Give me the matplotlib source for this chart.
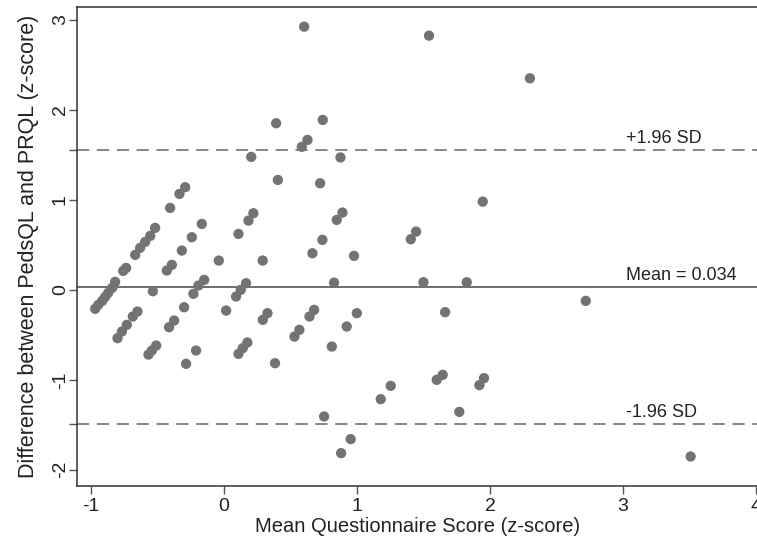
import matplotlib
matplotlib.use("Agg")
import matplotlib.pyplot as plt

plt.rcParams["font.family"] = ["Liberation Sans", "DejaVu Sans"]
plt.rcParams["axes.unicode_minus"] = False

# Bland-Altman data: mean of the two z-scores vs. their difference
x_mean = [-0.970, -0.947, -0.917, -0.895, -0.872, -0.842, -0.820, -0.759, -0.737,
          -0.669, -0.632, -0.594, -0.556, -0.519,
          -0.406, -0.336, -0.293, 0.204, 0.220, 0.183, 0.108,
          -0.168, -0.243, -0.318, -0.393, -0.431, -0.040, 0.290,
          -0.150, -0.193, -0.231, -0.301, -0.376, -0.414,
          -0.536, -0.652, -0.687, -0.732, -0.769, -0.802,
          -0.511, -0.544, -0.569, -0.211, -0.286,
          0.165, 0.125, 0.090, 0.015, 0.175, 0.140, 0.108, 0.326, 0.291,
          0.404, 0.722, 0.875, 0.602, 1.541, 2.300, 0.742, 0.627, 0.584, 0.391,
          0.890, 0.847, 0.739, 0.664, 0.977, 0.827,
          0.677, 0.642, 0.566, 0.529, 0.998, 0.922, 0.810, 0.383,
          1.945, 1.444, 1.404, 1.499, 1.825, 1.662,
          1.644, 1.599, 1.955, 1.920,
          0.752, 0.952, 0.880, 1.178, 1.253, 1.769, 3.509, 2.720]
y_diff = [-0.210, -0.167, -0.122, -0.078, -0.033, 0.022, 0.089, 0.211, 0.244,
          0.389, 0.467, 0.533, 0.600, 0.689,
          0.911, 1.067, 1.141, 1.478, 0.852, 0.770, 0.622,
          0.733, 0.585, 0.437, 0.278, 0.215, 0.326, 0.326,
          0.111, 0.048, -0.044, -0.193, -0.341, -0.415,
          -0.015, -0.241, -0.296, -0.389, -0.463, -0.537,
          -0.619, -0.674, -0.719, -0.674, -0.822,
          0.074, 0.000, -0.074, -0.230, -0.585, -0.648, -0.711, -0.259, -0.333,
          1.222, 1.185, 1.472, 2.926, 2.826, 2.352, 1.889, 1.667, 1.590, 1.852,
          0.859, 0.778, 0.556, 0.407, 0.378, 0.081,
          -0.222, -0.296, -0.444, -0.519, -0.259, -0.407, -0.630, -0.815,
          0.981, 0.648, 0.563, 0.085, 0.085, -0.248,
          -0.944, -1.000, -0.981, -1.059,
          -1.407, -1.659, -1.815, -1.215, -1.067, -1.356, -1.852, -0.122]

mean_diff = 0.034
upper_loa = 1.555
lower_loa = -1.487

x_ticks = [-1, 0, 1, 2, 3, 4]
y_ticks = [-2, -1, 0, 1, 2, 3]

fig = plt.figure(figsize=(7.57, 5.41), dpi=100)
ax = fig.add_axes([0.102, 0.102, 0.898, 0.885])

ax.scatter(x_mean, y_diff, s=55, color="#737376", edgecolors="none", zorder=3)

ax.axhline(mean_diff, color="#555555", linewidth=1.2, zorder=2)
ax.axhline(upper_loa, color="#666666", linewidth=1.1, linestyle=(0, (8, 5)), zorder=2)
ax.axhline(lower_loa, color="#666666", linewidth=1.1, linestyle=(0, (8, 5)), zorder=2)

ax.text(3.02, upper_loa + 0.03, "+1.96 SD", fontsize=13, color="#222222", va="bottom")
ax.text(3.02, mean_diff + 0.03, f"Mean = {mean_diff:.3f}", fontsize=13, color="#222222", va="bottom")
ax.text(3.02, lower_loa + 0.03, "-1.96 SD", fontsize=13, color="#222222", va="bottom")

ax.set_xlim(-1.105, 4.008)
ax.set_ylim(-2.178, 3.144)
ax.set_xticks(x_ticks)
ax.set_yticks(y_ticks)
ax.set_yticks([lower_loa, upper_loa], minor=True)
ax.tick_params(axis="both", which="both", direction="out", length=6, width=1,
               color="#555555", labelsize=14, labelcolor="#222222", pad=3)
ax.tick_params(axis="y", which="both", pad=0)
plt.setp(ax.get_yticklabels(), rotation=90, va="center")

for side in ["left", "bottom", "top"]:
    ax.spines[side].set_color("#333333")
    ax.spines[side].set_linewidth(1.1)
ax.spines["right"].set_visible(False)

ax.set_xlabel("Mean Questionnaire Score (z-score)", fontsize=14.5, color="#222222", labelpad=1)
ax.set_ylabel("Difference between PedsQL and PRQL (z-score)", fontsize=15.5, color="#222222",
              labelpad=9)

fig.savefig("out.png", dpi=100)
